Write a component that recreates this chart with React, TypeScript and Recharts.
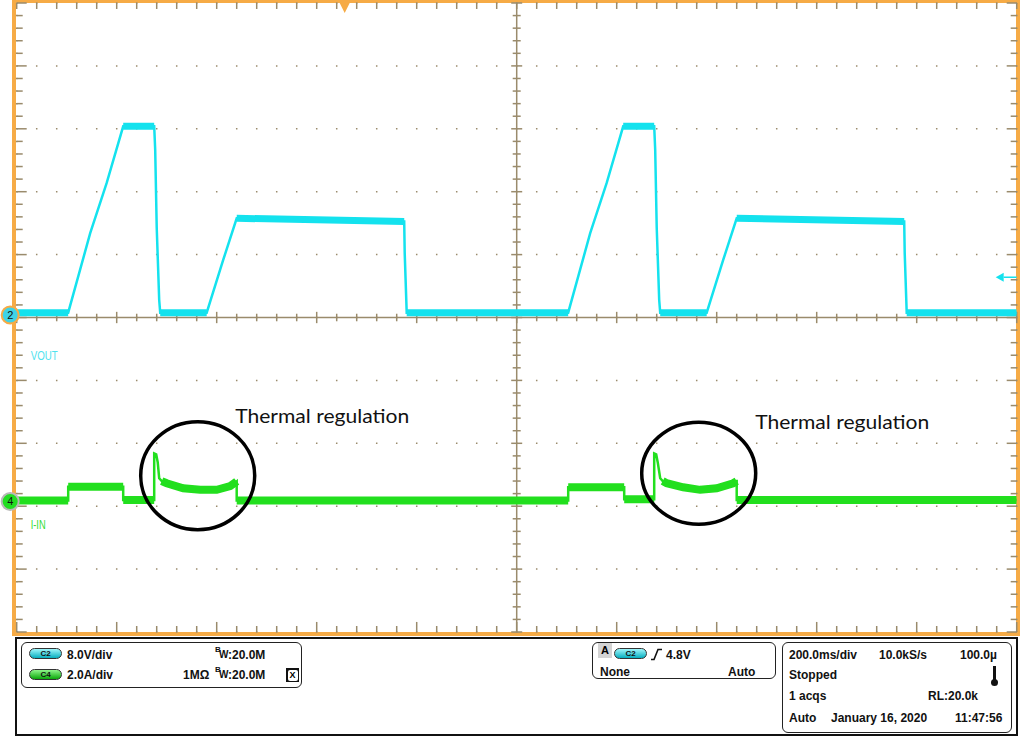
import React from "react";
import {
  ComposedChart,
  Line,
  XAxis,
  YAxis,
  CartesianGrid,
  ReferenceLine,
  ReferenceDot,
} from "recharts";

// scope screen: 10 div x 200 ms/div, 10 div vertical
const TIME_DOMAIN = [0, 2000];
const DIV_DOMAIN = [-5, 5];
// C2 8.0 V/div, ground a hair above the centre line
const V_DOMAIN = [-40.32, 39.68];
// C4 2.0 A/div, ground about 2.9 div below centre
const A_DOMAIN = [-4.15, 15.85];

const TIME_MAJOR = Array.from({ length: 11 }, (_, i) => i * 200);
const TIME_MINOR = Array.from({ length: 51 }, (_, i) => i * 40);
const DIV_MAJOR = Array.from({ length: 11 }, (_, i) => i - 5);
const DIV_MINOR = Array.from({ length: 51 }, (_, i) => Math.round((i * 0.2 - 5) * 10) / 10);

// VOUT (C2), time in ms, volts
const VOUT_T = [0, 103, 147, 180, 213, 275, 277, 280, 285, 287, 380, 413, 440, 775, 776, 780,
  1103, 1147, 1180, 1213, 1275, 1277, 1280, 1285, 1287, 1380, 1413, 1440, 1775, 1776, 1780, 2000];
const VOUT_V = [0.3, 0.3, 10.4, 16.8, 24.0, 24.0, 21.0, 11.2, 1.9, 0.3, 0.3, 7.0, 12.3, 11.9, 7.9, 0.3,
  0.3, 10.4, 16.8, 24.0, 24.0, 21.0, 11.2, 1.9, 0.3, 0.3, 7.0, 12.3, 11.9, 7.9, 0.3, 0.3];

// noisy flat stretches of VOUT, [ms, V]
const VOUT_BAND = [
  [[0, 0.3], [103, 0.3]],
  [[213, 24.0], [275, 24.0]],
  [[287, 0.3], [380, 0.3]],
  [[440, 12.3], [775, 11.9]],
  [[780, 0.3], [1103, 0.3]],
  [[1213, 24.0], [1275, 24.0]],
  [[1287, 0.3], [1380, 0.3]],
  [[1440, 12.3], [1775, 11.9]],
  [[1780, 0.3], [2000, 0.3]],
];

// I-IN (C4), time in ms, amps
const IIN_T = [0, 103, 103, 213, 213, 275, 275, 279, 282, 285, 290, 300, 333, 367, 400, 427, 437, 440, 440,
  1103, 1103, 1215, 1215, 1275, 1275, 1279, 1282, 1287, 1292, 1300, 1333, 1367, 1400, 1433, 1439, 1440, 1440, 2000];
const IIN_A = [0.03, 0.03, 0.47, 0.47, 0.05, 0.05, 1.53, 1.5, 1.25, 0.74, 0.65, 0.58, 0.42, 0.37, 0.37, 0.49, 0.6, 0.64, 0.03,
  0.03, 0.45, 0.45, 0.07, 0.07, 1.53, 1.5, 1.25, 0.74, 0.65, 0.58, 0.45, 0.37, 0.42, 0.58, 0.65, 0.65, 0.05, 0.05];

// noisy stretches of I-IN, [ms, A]
const IIN_BAND = [
  [[0, 0.03], [103, 0.03]],
  [[103, 0.47], [213, 0.47]],
  [[213, 0.05], [275, 0.05]],
  [[290, 0.65], [300, 0.58], [333, 0.42], [367, 0.37], [400, 0.37], [427, 0.49], [437, 0.6], [440, 0.64]],
  [[440, 0.03], [1103, 0.03]],
  [[1103, 0.45], [1215, 0.45]],
  [[1215, 0.07], [1275, 0.07]],
  [[1292, 0.65], [1300, 0.58], [1333, 0.45], [1367, 0.37], [1400, 0.42], [1433, 0.58], [1440, 0.65]],
  [[1440, 0.05], [2000, 0.05]],
];

const TRIGGER_TIME = 656;
const TRIGGER_LEVEL = 4.8;

const THERMAL_CIRCLES = [
  { t: 362, a: 0.82, ry: 54 },
  { t: 1364, a: 0.9, ry: 51 },
];
const THERMAL_LABELS = [
  { t: 437, a: 2.5 },
  { t: 1477, a: 2.3 },
];

const withGaps = (segments: number[][][], key: string) =>
  segments.flatMap((seg) => [
    ...seg.map(([t, y]) => ({ t, [key]: y })),
    { t: seg[seg.length - 1][0], [key]: null },
  ]);

const vout = VOUT_T.map((t, i) => ({ t, v: VOUT_V[i] }));
const voutBand = withGaps(VOUT_BAND, "v");
const iin = IIN_T.map((t, i) => ({ t, a: IIN_A[i] }));
const iinBand = withGaps(IIN_BAND, "a");

const GRAT = "#9a8b6c";
const CYAN = "#14e2ee";
const GREEN = "#22df1e";
const ORANGE = "#f6ab46";
const PANEL_FONT = '"Liberation Sans", Arial, sans-serif';

// tick lengths: 6 px minor, 10 px major (0.5 px per ms, 62.9 px per div)
const MS_MINOR = 12;
const MS_MAJOR = 20;
const DIV_TICK_MINOR = 0.095;
const DIV_TICK_MAJOR = 0.16;

const Marker = ({ cx, cy, label, fill, ring, name, nameColor, nameDy, nameLen }: any) => (
  <g>
    <circle cx={cx - 6.5} cy={cy} r={8.5} fill={fill} stroke={ring} strokeWidth={2} />
    <text x={cx - 6.5} y={cy + 4} textAnchor="middle" fontSize={11} fontFamily={PANEL_FONT} fill="#111">
      {label}
    </text>
    <text x={cx + 14} y={cy + nameDy} fontSize={12} fontFamily={PANEL_FONT} fill={nameColor}
      textLength={nameLen} lengthAdjust="spacingAndGlyphs">
      {name}
    </text>
  </g>
);

const PanelText = ({ x, y, children, size = 12 }: any) => (
  <div style={{
    position: "absolute", left: x, top: y, fontSize: size, fontWeight: "bold",
    fontFamily: PANEL_FONT, lineHeight: 1, color: "#111", whiteSpace: "nowrap",
  }}>
    {children}
  </div>
);

const Pill = ({ x, y, label, top, bottom }: any) => (
  <div style={{
    position: "absolute", left: x, top: y, width: 33, height: 11, borderRadius: 6,
    background: `linear-gradient(${top}, ${bottom})`, border: "1px solid #333", boxSizing: "border-box",
    fontSize: 8, fontWeight: "bold", fontFamily: PANEL_FONT, color: "#111", textAlign: "center", lineHeight: "9px",
  }}>
    {label}
  </div>
);

const Box = ({ x, y, w, h }: any) => (
  <div style={{
    position: "absolute", left: x, top: y, width: w, height: h, border: "1px solid #222",
    borderRadius: 6, boxSizing: "border-box",
  }} />
);

const Bw = ({ x, y }: any) => (
  <>
    <PanelText x={x} y={y - 3} size={8}>B</PanelText>
    <PanelText x={x + 4} y={y + 1} size={10}>W</PanelText>
    <PanelText x={x + 13} y={y}>:20.0M</PanelText>
  </>
);

const tickLine = (key: string, a: { x: number; y: number }, b: { x: number; y: number }) => (
  <ReferenceLine key={key} xAxisId="t" yAxisId="g" stroke={GRAT} strokeWidth={1.5}
    ifOverflow="visible" segment={[a, b]} />
);

export default function App() {
  return (
    <div style={{ position: "absolute", left: 0, top: 0, width: 1024, height: 736, background: "#fff" }}>
      {/* orange screen frame */}
      <div style={{
        position: "absolute", left: 12, top: -1, width: 1008, height: 637,
        border: `4px solid ${ORANGE}`, boxSizing: "border-box",
      }} />
      <div style={{ position: "absolute", left: 0, top: 0 }}>
        <ComposedChart width={1024} height={640} margin={{ top: 3, right: 7.3, bottom: 8, left: 16.7 }}>
          <XAxis xAxisId="t" type="number" dataKey="t" domain={TIME_DOMAIN} hide allowDataOverflow />
          <XAxis xAxisId="gx" type="number" domain={TIME_DOMAIN} ticks={TIME_MAJOR} hide allowDataOverflow />
          <YAxis yAxisId="v" type="number" domain={V_DOMAIN} hide allowDataOverflow />
          <YAxis yAxisId="a" type="number" domain={A_DOMAIN} hide allowDataOverflow />
          <YAxis yAxisId="g" type="number" domain={DIV_DOMAIN} ticks={DIV_MAJOR} hide allowDataOverflow />

          {/* dotted graticule */}
          <CartesianGrid xAxisId="gx" yAxisId="g" horizontal={false} stroke={GRAT} strokeWidth={1.5}
            strokeDasharray="1.5 11.08" strokeDashoffset={0.75} />
          <CartesianGrid xAxisId="gx" yAxisId="g" vertical={false} stroke={GRAT} strokeWidth={1.5}
            strokeDasharray="1.5 18.5" strokeDashoffset={0.75} />

          {/* centre cross */}
          <ReferenceLine xAxisId="t" yAxisId="g" x={1000} stroke={GRAT} strokeWidth={1.5} ifOverflow="visible" />
          <ReferenceLine xAxisId="t" yAxisId="g" y={0} stroke={GRAT} strokeWidth={1.5} ifOverflow="visible" />
          {DIV_MINOR.map((d) => {
            const w = Number.isInteger(d) ? 11 : 8;
            return tickLine("cy" + d, { x: 1000 - w, y: d }, { x: 1000 + w, y: d });
          })}
          {TIME_MINOR.map((t) => {
            const h = t % 200 === 0 ? 0.09 : 0.06;
            return tickLine("cx" + t, { x: t, y: -h }, { x: t, y: h });
          })}

          {/* ticks along the screen edges */}
          {TIME_MINOR.map((t) => tickLine("top" + t, { x: t, y: 5 }, { x: t, y: 5 - DIV_TICK_MINOR }))}
          {TIME_MINOR.map((t) => {
            const h = t % 200 === 0 ? DIV_TICK_MAJOR : DIV_TICK_MINOR;
            return tickLine("bot" + t, { x: t, y: -5 }, { x: t, y: -5 + h });
          })}
          {DIV_MINOR.map((d) => {
            const w = Number.isInteger(d) ? MS_MAJOR : MS_MINOR;
            return tickLine("lft" + d, { x: 0, y: d }, { x: w, y: d });
          })}
          {DIV_MINOR.map((d) => {
            const w = Number.isInteger(d) ? MS_MAJOR : MS_MINOR;
            return tickLine("rgt" + d, { x: 2000 - w, y: d }, { x: 2000, y: d });
          })}

          {/* traces */}
          <Line xAxisId="t" yAxisId="v" data={voutBand} dataKey="v" type="linear" stroke={CYAN} strokeWidth={7}
            strokeLinecap="butt" dot={false} activeDot={false} connectNulls={false} isAnimationActive={false} />
          <Line xAxisId="t" yAxisId="v" data={vout} dataKey="v" type="linear" stroke={CYAN} strokeWidth={2.5}
            dot={false} activeDot={false} isAnimationActive={false} />
          <Line xAxisId="t" yAxisId="a" data={iinBand} dataKey="a" type="linear" stroke={GREEN} strokeWidth={8}
            strokeLinecap="butt" dot={false} activeDot={false} connectNulls={false} isAnimationActive={false} />
          <Line xAxisId="t" yAxisId="a" data={iin} dataKey="a" type="linear" stroke={GREEN} strokeWidth={2.5}
            dot={false} activeDot={false} isAnimationActive={false} />

          {/* thermal regulation call-outs */}
          {THERMAL_CIRCLES.map((c, i) => (
            <ReferenceDot key={"c" + i} xAxisId="t" yAxisId="a" x={c.t} y={c.a}
              shape={(p: any) => (
                <ellipse cx={p.cx} cy={p.cy} rx={57} ry={c.ry} fill="none" stroke="#000" strokeWidth={3.5} />
              )} />
          ))}
          {THERMAL_LABELS.map((l, i) => (
            <ReferenceDot key={"l" + i} xAxisId="t" yAxisId="a" x={l.t} y={l.a}
              shape={(p: any) => (
                <text x={p.cx} y={p.cy} fontSize={20} fontFamily="Lato, 'Open Sans', sans-serif" fill="#111"
                  textLength={174} lengthAdjust="spacingAndGlyphs">
                  Thermal regulation
                </text>
              )} />
          ))}

          {/* channel ground markers */}
          <ReferenceDot xAxisId="t" yAxisId="v" x={0} y={0}
            shape={(p: any) => (
              <Marker cx={p.cx} cy={p.cy} label="2" fill="#3fd3e6" ring={ORANGE}
                name="VOUT" nameColor="#4fe2ee" nameDy={45} nameLen={27} />
            )} />
          <ReferenceDot xAxisId="t" yAxisId="a" x={0} y={0}
            shape={(p: any) => (
              <Marker cx={p.cx} cy={p.cy} label="4" fill="#22dd22" ring="#b8b8b8"
                name="I-IN" nameColor="#33dd33" nameDy={28} nameLen={15} />
            )} />

          {/* trigger position and level */}
          <ReferenceDot xAxisId="t" yAxisId="g" x={TRIGGER_TIME} y={5}
            shape={(p: any) => (
              <polygon points={`${p.cx - 5},${p.cy} ${p.cx + 5},${p.cy} ${p.cx},${p.cy + 10}`} fill={ORANGE} />
            )} />
          <ReferenceDot xAxisId="t" yAxisId="v" x={2000} y={TRIGGER_LEVEL}
            shape={(p: any) => (
              <g>
                <polygon points={`${p.cx - 21},${p.cy} ${p.cx - 13},${p.cy - 4.5} ${p.cx - 13},${p.cy + 4.5}`} fill={CYAN} />
                <line x1={p.cx - 13} y1={p.cy} x2={p.cx} y2={p.cy} stroke={CYAN} strokeWidth={1.5} />
              </g>
            )} />
        </ComposedChart>
      </div>

      {/* settings panel */}
      <div style={{
        position: "absolute", left: 15, top: 637, width: 1003, height: 99,
        border: "2px solid #111", boxSizing: "border-box",
      }} />
      <Box x={21} y={642} w={281} h={46} />
      <Pill x={29} y={648} label="C2" top="#9ff6fb" bottom="#07aebf" />
      <PanelText x={67} y={649}>8.0V/div</PanelText>
      <Bw x={215} y={649} />
      <Pill x={29} y={669} label="C4" top="#8ff58a" bottom="#0aa80a" />
      <PanelText x={67} y={669}>2.0A/div</PanelText>
      <PanelText x={183} y={669}>1MΩ</PanelText>
      <Bw x={215} y={669} />
      <div style={{
        position: "absolute", left: 286, top: 668, width: 13, height: 14, background: "#111",
        boxSizing: "border-box", padding: 1.5,
      }}>
        <div style={{
          width: 10, height: 11, background: "#fff", borderRadius: 2, fontSize: 9, fontWeight: "bold",
          fontFamily: PANEL_FONT, textAlign: "center", lineHeight: "11px",
        }}>X</div>
      </div>

      <Box x={592} y={642} w={184} h={37} />
      <div style={{
        position: "absolute", left: 598, top: 643, width: 14, height: 15, background: "#d4d4d4",
        fontSize: 11, fontWeight: "bold", fontFamily: PANEL_FONT, textAlign: "center", lineHeight: "15px",
      }}>A</div>
      <Pill x={614} y={648} label="C2" top="#9ff6fb" bottom="#07aebf" />
      <svg style={{ position: "absolute", left: 650, top: 648 }} width={13} height={13}>
        <path d="M1,11.5 L4,11.5 L8,1.5 L12,1.5" fill="none" stroke="#111" strokeWidth={1.6} />
      </svg>
      <PanelText x={666} y={649}>4.8V</PanelText>
      <PanelText x={600} y={666}>None</PanelText>
      <PanelText x={728} y={666}>Auto</PanelText>

      <Box x={782} y={642} w={230} h={91} />
      <PanelText x={789} y={649}>200.0ms/div</PanelText>
      <PanelText x={879} y={649}>10.0kS/s</PanelText>
      <PanelText x={960} y={649}>100.0µ</PanelText>
      <PanelText x={789} y={669}>Stopped</PanelText>
      <svg style={{ position: "absolute", left: 990, top: 666 }} width={9} height={21}>
        <rect x={3} y={0} width={3} height={15} fill="#111" />
        <circle cx={4.5} cy={16.5} r={3.5} fill="#111" />
      </svg>
      <PanelText x={789} y={690}>1 acqs</PanelText>
      <PanelText x={928} y={690}>RL:20.0k</PanelText>
      <PanelText x={789} y={712}>Auto</PanelText>
      <PanelText x={831} y={712}>January 16, 2020</PanelText>
      <PanelText x={955} y={712}>11:47:56</PanelText>
    </div>
  );
}
